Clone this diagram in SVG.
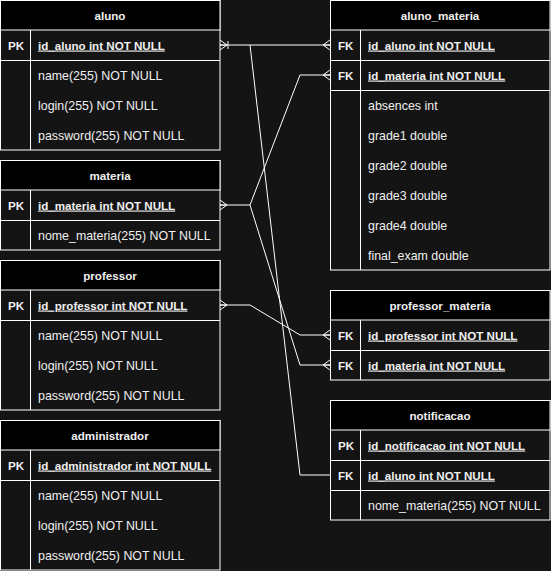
<svg xmlns="http://www.w3.org/2000/svg" width="551" height="571" viewBox="0 0 551 571">
<style>
text{font-family:"Liberation Sans",Arial,sans-serif;font-size:12.4px;fill:#f0f0f0}
.hd{fill:#000;stroke:#fff;stroke-width:1}
.bd{fill:#141414;stroke:#fff;stroke-width:1}
.ln{stroke:#fff;stroke-width:1;fill:none}
.ht{font-weight:bold;font-size:11.6px;text-anchor:middle}
.k{font-weight:bold;font-size:11.6px}
.ku{font-weight:bold;font-size:11.6px;text-decoration:underline}
.c{stroke:#fff;stroke-width:1;fill:none}
</style>
<defs>
<marker id="many" markerUnits="userSpaceOnUse" viewBox="-10 -6 12 12" refX="0" refY="0" markerWidth="12" markerHeight="12" orient="auto-start-reverse">
<path d="M-7,0 L0,-5 M-7,0 L0,5 M-7,0 L0,0" stroke="#fff" stroke-width="1" fill="none"/>
</marker>
<marker id="oneMany" markerUnits="userSpaceOnUse" viewBox="-10 -6 12 12" refX="0" refY="0" markerWidth="12" markerHeight="12" orient="auto-start-reverse">
<path d="M-7,0 L0,-5 M-7,0 L0,5 M-7,0 L0,0 M-8,-4 L-8,4" stroke="#fff" stroke-width="1" fill="none"/>
</marker>
</defs>
<rect x="0" y="0" width="551" height="571" fill="#141414"/>

<g id="connectors">
<path class="c" d="M220,45 L330,45" marker-start="url(#oneMany)" marker-end="url(#many)"/>
<path class="c" d="M250,45 L300,475 L330,475"/>
<path class="c" d="M220,205 L250,205 L300,75 L330,75" marker-start="url(#many)" marker-end="url(#many)"/>
<path class="c" d="M250,205 L300,365 L330,365" marker-end="url(#many)"/>
<path class="c" d="M220,305 L250,305 L300,335 L330,335" marker-start="url(#many)" marker-end="url(#many)"/>
</g>

<g id="aluno">
<rect class="bd" x="0.5" y="0.5" width="219.5" height="149.5"/>
<rect class="hd" x="0.5" y="0.5" width="219.5" height="29.5"/>
<path class="ln" d="M0.5,60.5 H220 M30.5,30 V150"/>
<text class="ht" x="110" y="19.5">aluno</text>
<text class="k" x="8" y="49.5">PK</text>
<text class="ku" x="38" y="49.5">id_aluno int NOT NULL</text>
<text x="38" y="79.5">name(255) NOT NULL</text>
<text x="38" y="109.5">login(255) NOT NULL</text>
<text x="38" y="139.5">password(255) NOT NULL</text>
</g>

<g id="materia">
<rect class="bd" x="0.5" y="160.5" width="219.5" height="89.5"/>
<rect class="hd" x="0.5" y="160.5" width="219.5" height="29.5"/>
<path class="ln" d="M0.5,220.5 H220 M30.5,190 V250"/>
<text class="ht" x="110" y="179.5">materia</text>
<text class="k" x="8" y="209.5">PK</text>
<text class="ku" x="38" y="209.5">id_materia int NOT NULL</text>
<text x="38" y="239.5">nome_materia(255) NOT NULL</text>
</g>

<g id="professor">
<rect class="bd" x="0.5" y="260.5" width="219.5" height="149.5"/>
<rect class="hd" x="0.5" y="260.5" width="219.5" height="29.5"/>
<path class="ln" d="M0.5,320.5 H220 M30.5,290 V410"/>
<text class="ht" x="110" y="279.5">professor</text>
<text class="k" x="8" y="309.5">PK</text>
<text class="ku" x="38" y="309.5">id_professor int NOT NULL</text>
<text x="38" y="339.5">name(255) NOT NULL</text>
<text x="38" y="369.5">login(255) NOT NULL</text>
<text x="38" y="399.5">password(255) NOT NULL</text>
</g>

<g id="administrador">
<rect class="bd" x="0.5" y="420.5" width="219.5" height="149.5"/>
<rect class="hd" x="0.5" y="420.5" width="219.5" height="29.5"/>
<path class="ln" d="M0.5,480.5 H220 M30.5,450 V570"/>
<text class="ht" x="110" y="439.5">administrador</text>
<text class="k" x="8" y="469.5">PK</text>
<text class="ku" x="38" y="469.5">id_administrador int NOT NULL</text>
<text x="38" y="499.5">name(255) NOT NULL</text>
<text x="38" y="529.5">login(255) NOT NULL</text>
<text x="38" y="559.5">password(255) NOT NULL</text>
</g>

<g id="aluno_materia">
<rect class="bd" x="330.5" y="0.5" width="219.5" height="269.5"/>
<rect class="hd" x="330.5" y="0.5" width="219.5" height="29.5"/>
<path class="ln" d="M330.5,60.5 H550 M330.5,90.5 H550 M360.5,30 V270"/>
<text class="ht" x="440" y="19.5">aluno_materia</text>
<text class="k" x="338" y="49.5">FK</text>
<text class="ku" x="368" y="49.5">id_aluno int NOT NULL</text>
<text class="k" x="338" y="79.5">FK</text>
<text class="ku" x="368" y="79.5">id_materia int NOT NULL</text>
<text x="368" y="109.5">absences int</text>
<text x="368" y="139.5">grade1 double</text>
<text x="368" y="169.5">grade2 double</text>
<text x="368" y="199.5">grade3 double</text>
<text x="368" y="229.5">grade4 double</text>
<text x="368" y="259.5">final_exam double</text>
</g>

<g id="professor_materia">
<rect class="bd" x="330.5" y="290.5" width="219.5" height="89.5"/>
<rect class="hd" x="330.5" y="290.5" width="219.5" height="29.5"/>
<path class="ln" d="M330.5,350.5 H550 M360.5,320 V380"/>
<text class="ht" x="440" y="309.5">professor_materia</text>
<text class="k" x="338" y="339.5">FK</text>
<text class="ku" x="368" y="339.5">id_professor int NOT NULL</text>
<text class="k" x="338" y="369.5">FK</text>
<text class="ku" x="368" y="369.5">id_materia int NOT NULL</text>
</g>

<g id="notificacao">
<rect class="bd" x="330.5" y="400.5" width="219.5" height="119.5"/>
<rect class="hd" x="330.5" y="400.5" width="219.5" height="29.5"/>
<path class="ln" d="M330.5,460.5 H550 M330.5,490.5 H550 M360.5,430 V520"/>
<text class="ht" x="440" y="419.5">notificacao</text>
<text class="k" x="338" y="449.5">PK</text>
<text class="ku" x="368" y="449.5">id_notificacao int NOT NULL</text>
<text class="k" x="338" y="479.5">FK</text>
<text class="ku" x="368" y="479.5">id_aluno int NOT NULL</text>
<text x="368" y="509.5">nome_materia(255) NOT NULL</text>
</g>
</svg>
